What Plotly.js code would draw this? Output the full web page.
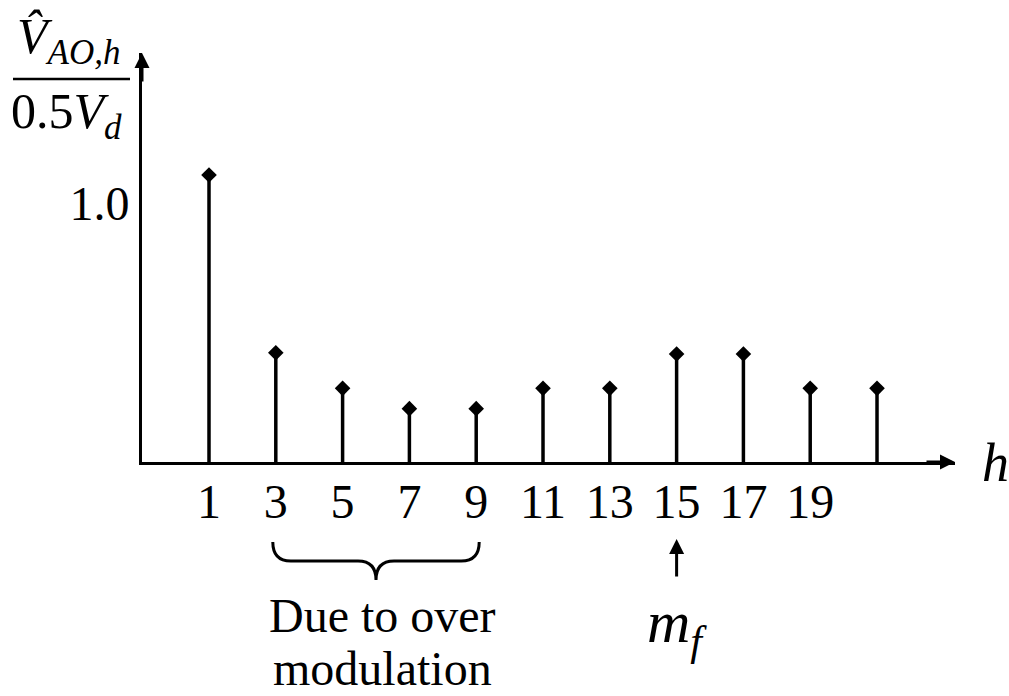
<!DOCTYPE html>
<html>
<head>
<meta charset="utf-8">
<script src="https://cdn.plot.ly/plotly-3.0.1.min.js"></script>
<style>html,body{margin:0;padding:0;background:#fff;}#chart{width:1009px;height:696px;}</style>
</head>
<body>
<div id="chart"></div>
<script>
// ---- data ----
const harmonics = [1, 3, 5, 7, 9, 11, 13, 15, 17, 19, 21];
const amplitudes = [1.13, 0.43, 0.29, 0.21, 0.21, 0.29, 0.29, 0.425, 0.425, 0.29, 0.29];
const xTickVals = [1, 3, 5, 7, 9, 11, 13, 15, 17, 19];
const xTickText = ['1', '3', '5', '7', '9', '11', '13', '15', '17', '19'];
const yTickVals = [1];
const yTickText = ['1.0'];
const bracketFrom = 3, bracketTo = 9, mfHarmonic = 15;

// ---- layout helpers ----
const W = 1009, H = 696;
const PL = 142, PR = 955, PT = 53, PB = 462;
const X0 = -1.006, X1 = 23.335, Y0 = 0, Y1 = 1.61;
const px = x => (x - PL) / (PR - PL);
const py = y => (PB - y) / (PB - PT);
const FONT = 'Liberation Serif, Times New Roman, serif';

// stems built from data
const stemX = [], stemY = [];
harmonics.forEach((h, i) => { stemX.push(h, h, null); stemY.push(0, amplitudes[i], null); });

const traces = [
  { x: stemX, y: stemY, mode: 'lines', line: { color: '#000', width: 3.5 }, hoverinfo: 'skip', cliponaxis: false },
  { x: harmonics, y: amplitudes, mode: 'markers', marker: { symbol: 'diamond', size: 12, color: '#000' }, cliponaxis: false }
];

// brace path in pixel coords converted to paper
function braceAt(xl, xr, top, mid, tip) {
  const xc = (xl + xr) / 2, r = 18;
  const P = (x, y) => px(x).toFixed(5) + ',' + py(y).toFixed(5);
  return 'M' + P(xl, top) + ' Q' + P(xl, mid) + ' ' + P(xl + r, mid) +
    ' L' + P(xc - r, mid) + ' Q' + P(xc, mid) + ' ' + P(xc, tip) +
    ' Q' + P(xc, mid) + ' ' + P(xc + r, mid) +
    ' L' + P(xr - r, mid) + ' Q' + P(xr, mid) + ' ' + P(xr, top);
}
const hx = h => PL + (h - X0) / (X1 - X0) * (PR - PL);

const ann = (o) => Object.assign({ xref: 'paper', yref: 'paper', xanchor: 'center', yanchor: 'middle', showarrow: false, font: { family: FONT, size: 48, color: '#000' } }, o);

const layout = {
  width: W, height: H,
  margin: { l: PL, r: W - PR, t: PT, b: H - PB, pad: 0 },
  paper_bgcolor: '#fff', plot_bgcolor: '#fff',
  showlegend: false,
  xaxis: {
    range: [X0, X1], showgrid: false, zeroline: false, showline: true, linecolor: '#000', linewidth: 3,
    tickmode: 'array', tickvals: xTickVals, ticktext: xTickText, ticks: '',
    tickfont: { family: FONT, size: 48, color: '#000' }, ticklabelstandoff: -5, automargin: false, fixedrange: true
  },
  yaxis: {
    range: [Y0, Y1], showgrid: false, zeroline: false, showline: true, linecolor: '#000', linewidth: 3,
    tickmode: 'array', tickvals: yTickVals, ticktext: yTickText, ticks: '',
    tickfont: { family: FONT, size: 48, color: '#000' }, ticklabelstandoff: 0, ticklabelshift: -5, automargin: false, fixedrange: true
  },
  shapes: [
    { type: 'path', xref: 'paper', yref: 'paper', path: braceAt(hx(bracketFrom) - 3, hx(bracketTo) + 3, 542, 561, 580), line: { color: '#000', width: 3 } },
    { type: 'line', xref: 'paper', yref: 'paper', x0: px(13), x1: px(130), y0: py(79), y1: py(79), line: { color: '#000', width: 2.5 } }
  ],
  annotations: [
    // axis arrowheads
    { xref: 'paper', yref: 'paper', x: 1, y: 0, ax: -30, ay: 0, text: '', showarrow: true, arrowhead: 2, arrowwidth: 3, arrowsize: 1, arrowcolor: '#000', standoff: 0 },
    { xref: 'paper', yref: 'paper', x: 0, y: 1, ax: 0, ay: 30, text: '', showarrow: true, arrowhead: 2, arrowwidth: 3, arrowsize: 1, arrowcolor: '#000', standoff: 0 },
    // m_f arrow
    { xref: 'x', yref: 'paper', x: mfHarmonic, y: py(539), ax: 0, ay: 39, text: '', showarrow: true, arrowhead: 2, arrowwidth: 3, arrowsize: 1, arrowcolor: '#000', standoff: 0 },
    // axis label h
    ann({ x: px(995), y: py(463), text: '<i>h</i>', font: { family: FONT, size: 54, color: '#000' } }),
    // y label numerator & denominator
    ann({ x: px(68), y: py(40), text: '<i>V\u0302<sub>AO,h</sub></i>', font: { family: FONT, size: 50, color: '#000' } }),
    ann({ x: px(66), y: py(115), text: '0.5<i>V<sub>d</sub></i>', font: { family: FONT, size: 50, color: '#000' } }),
    // bracket label
    ann({ x: px(382), y: py(615), text: 'Due to over' }),
    ann({ x: px(382), y: py(669), text: 'modulation' }),
    // m_f label
    ann({ x: px(677), y: py(626), text: '<i>m<sub>f</sub></i>', font: { family: FONT, size: 60, color: '#000' } })
  ]
};

Plotly.newPlot('chart', traces, layout, { staticPlot: true, displayModeBar: false });
</script>
</body>
</html>
